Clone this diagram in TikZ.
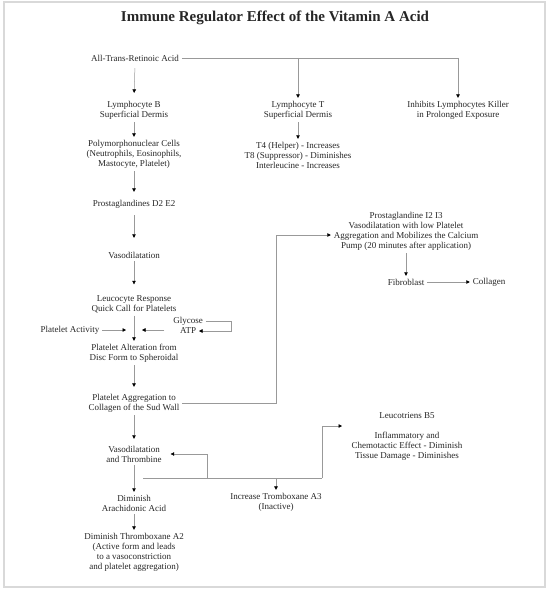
\documentclass[tikz,border=0pt]{standalone}
\usepackage{fontspec}
\setmainfont{Liberation Serif}
\usetikzlibrary{arrows.meta,calc}
\begin{document}
\begin{tikzpicture}[x=1pt,y=-1pt,
 lbl/.style={font=\fontsize{9}{10}\selectfont, align=center, inner sep=0pt, outer sep=3pt, text=black!85},
 ln/.style={draw=black!40, line width=0.5pt},
 arr/.style={ln, -{Triangle[length=3.5pt,width=3.5pt,color=black]}},
]
\useasboundingbox (0,0) rectangle (550,591);
\draw[black!15, line width=1.3pt] (4,2) rectangle (545,587);

\node[font=\fontsize{15}{18}\selectfont\bfseries, text=black!85, inner sep=0pt] (title) at (275,18) {Immune Regulator Effect of the Vitamin A Acid};
\node[lbl] (atra) at (135,58) {All-Trans-Retinoic Acid};
\node[lbl] (lymB) at (134,110) {Lymphocyte B\\Superficial Dermis};
\node[lbl] (lymT) at (298,110) {Lymphocyte T\\Superficial Dermis};
\node[lbl] (inhib) at (458,110) {Inhibits Lymphocytes Killer\\in Prolonged Exposure};
\node[lbl] (poly) at (134,154) {Polymorphonuclear Cells\\(Neutrophils, Eosinophils,\\Mastocyte, Platelet)};
\node[lbl] (tcell) at (298,155) {T4 (Helper) - Increases\\T8 (Suppressor) - Diminishes\\Interleucine - Increases};
\node[lbl] (pd2) at (134,204) {Prostaglandines D2 E2};
\node[lbl] (vaso1) at (134,255) {Vasodilatation};
\node[lbl] (leuco) at (134,304) {Leucocyte Response\\Quick Call for Platelets};
\node[lbl] (pact) at (70,330) {Platelet Activity};
\node[lbl] (glyc) at (188,321) {Glycose};
\node[lbl] (atp) at (188,331) {ATP};
\node[lbl] (palt) at (134,353) {Platelet Alteration from\\Disc Form to Spheroidal};
\node[lbl] (paggr) at (134,403) {Platelet Aggregation to\\Collagen of the Sud Wall};
\node[lbl] (pi2) at (406,231) {Prostaglandine I2 I3\\Vasodilatation with low Platelet\\Aggregation and Mobilizes the Calcium\\Pump (20 minutes after application)};
\node[lbl] (fib) at (406,282) {Fibroblast};
\node[lbl] (coll) at (489,282) {Collagen};
\node[lbl] (vaso2) at (134,454) {Vasodilatation\\and Thrombine};
\node[lbl] (ltb) at (407,416) {Leucotriens B5};
\node[lbl] (infl) at (407,446) {Inflammatory and\\Chemotactic Effect - Diminish\\Tissue Damage - Diminishes};
\node[lbl] (dimA) at (134,503) {Diminish\\Arachidonic Acid};
\node[lbl] (txa3) at (276,502) {Increase Tromboxane A3\\(Inactive)};
\node[lbl] (dimT) at (134,552) {Diminish Thromboxane A2\\(Active form and leads\\to a vasoconstriction\\and platelet aggregation)};

% top distribution
\draw[ln] (atra.east) -- (atra.east -| inhib);
\draw[arr] (atra.east -| lymT) -- (lymT.north);
\draw[arr] (atra.east -| inhib) -- (inhib.north);
\draw[arr, shorten <=4pt, shorten >=5pt] (atra.south) -- (lymB.north);
\draw[arr] (lymB.south) -- (poly.north);
\draw[arr] (lymT.south) -- (tcell.north);
\draw[arr, shorten >=5pt] (poly.south) -- (pd2.north);
\draw[arr, shorten <=4pt, shorten >=11pt] (pd2.south) -- (vaso1.north);
\draw[arr, shorten >=8pt] (vaso1.south) -- (leuco.north);
\draw[arr] (leuco.south) -- (palt.north);
\draw[arr, shorten >=4pt] (palt.south) -- (paggr.north);
\draw[arr, shorten >=4pt] (paggr.south) -- (vaso2.north);
\draw[arr] (vaso2.south) -- (dimA.north);
\draw[arr] (dimA.south) -- (dimT.north);

% platelet activity / glycose
\coordinate (mid) at (134,330);
\draw[arr, shorten >=8pt] (pact.east) -- (mid);
\draw[arr, shorten >=8pt] ($(glyc.west |- mid)+(-6,0)$) -- (mid);
\draw[arr] (glyc.east) -- ++(26,0) |- (atp.east);

% to prostaglandine I2 I3
\coordinate (ta) at (276,403);
\draw[arr] (paggr.east) -- (ta) |- ($(pi2.west)+(0,4)$);
\draw[arr] (pi2.south) -- (fib.north);
\draw[arr] (fib.east) -- (coll.west);

% lower junction
\coordinate (j0) at (143,478);
\coordinate (j1) at (207,478);
\coordinate (j2) at (322,478);
\coordinate (lt) at (342,426);
\draw[ln] (j0) -- (j2);
\draw[arr] (j2) |- (lt);
\draw[arr, shorten >=6pt] (j1) |- (vaso2.east);
\draw[arr] (j0 -| txa3.north) -- (txa3.north);
\end{tikzpicture}
\end{document}
